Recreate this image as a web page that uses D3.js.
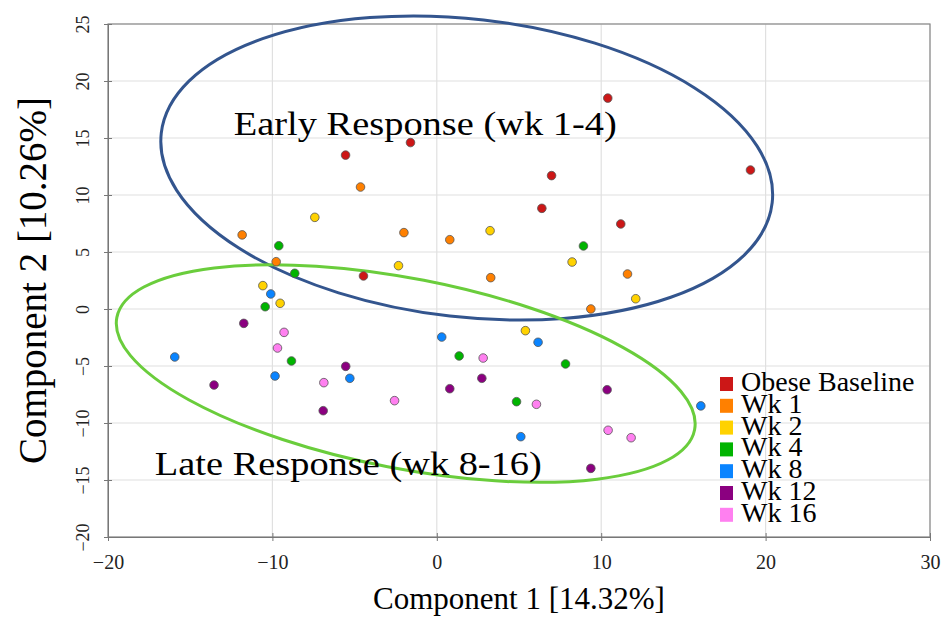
<!DOCTYPE html>
<html>
<head>
<meta charset="utf-8">
<script src="https://cdn.jsdelivr.net/npm/d3@7"></script>
<style>
  body { margin: 0; background: #fff; }
  text { font-family: "Liberation Serif", "Times New Roman", serif; }
</style>
</head>
<body>
<div id="my_dataviz"></div>
<script>

// groups and their colours
var groupNames = ["Obese Baseline", "Wk 1", "Wk 2", "Wk 4", "Wk 8", "Wk 12", "Wk 16"];
var groupColors = ["#cc1717", "#ff8000", "#ffd200", "#00b400", "#0a84ff", "#8b0080", "#ff80f0"];

// PCA scores [component 1, component 2]
var obeseBaseline = [[-5.55, 13.5], [-1.6, 14.6], [10.4, 18.5], [6.98, 11.7], [6.39, 8.83], [11.19, 7.46], [19.08, 12.19], [-4.46, 2.9]];
var wk1  = [[-4.64, 10.7], [-11.84, 6.5], [-9.77, 4.15], [-2.0, 6.7], [0.79, 6.08], [3.28, 2.75], [11.6, 3.07], [9.37, 0.0]];
var wk2  = [[-7.42, 8.04], [3.24, 6.87], [-2.33, 3.8], [8.23, 4.12], [-10.58, 2.05], [-9.53, 0.5], [12.1, 0.9], [5.39, -1.9]];
var wk4  = [[-9.61, 5.55], [-8.64, 3.13], [8.92, 5.53], [-10.44, 0.2], [-8.84, -4.56], [1.36, -4.12], [7.83, -4.82], [4.85, -8.13]];
var wk8  = [[-10.1, 1.32], [-15.94, -4.21], [-9.84, -5.88], [-5.29, -6.08], [0.3, -2.46], [6.16, -2.92], [5.11, -11.2], [16.06, -8.5]];
var wk12 = [[-11.74, -1.26], [-5.54, -5.03], [-13.55, -6.67], [-6.91, -8.92], [2.74, -6.08], [0.79, -6.99], [10.36, -7.08], [9.37, -13.98]];
var wk16 = [[-9.29, -2.05], [-9.69, -3.42], [-6.87, -6.46], [2.82, -4.3], [-2.57, -8.04], [6.06, -8.36], [10.42, -10.64], [11.82, -11.29]];
var groupData = [obeseBaseline, wk1, wk2, wk4, wk8, wk12, wk16];

// axis ticks
var xTicks = [-20, -10, 0, 10, 20, 30];
var yTicks = [-20, -15, -10, -5, 0, 5, 10, 15, 20, 25];

// set the dimensions and margins of the graph
var margin = {top: 24, right: 16, bottom: 82, left: 108},
    width = 946 - margin.left - margin.right,
    height = 619 - margin.top - margin.bottom;

var svg = d3.select("#my_dataviz")
  .append("svg")
    .attr("width", 946)
    .attr("height", 619)
  .append("g")
    .attr("transform", "translate(" + margin.left + "," + margin.top + ")");

var x = d3.scaleLinear().domain([-20, 30]).range([0, width]);
var y = d3.scaleLinear().domain([-20, 25]).range([height, 0]);

// gridlines
svg.append("g").selectAll("line.vg")
  .data(xTicks).enter().append("line")
    .attr("x1", function(d) { return x(d); }).attr("x2", function(d) { return x(d); })
    .attr("y1", 0).attr("y2", height)
    .attr("stroke", "#e0e0e0").attr("stroke-width", 1.2);
svg.append("g").selectAll("line.hg")
  .data(yTicks).enter().append("line")
    .attr("x1", 0).attr("x2", width)
    .attr("y1", function(d) { return y(d); }).attr("y2", function(d) { return y(d); })
    .attr("stroke", "#e0e0e0").attr("stroke-width", 1.2);

// frame
svg.append("rect")
  .attr("width", width).attr("height", height)
  .attr("fill", "none").attr("stroke", "#8a8a8a").attr("stroke-width", 1.2);

// x axis
var xAxis = svg.append("g")
  .attr("transform", "translate(0," + height + ")")
  .call(d3.axisBottom(x).tickValues(xTicks).tickSize(4).tickFormat(d3.format("d")));
xAxis.select(".domain").attr("stroke", "#777");
xAxis.selectAll(".tick line").attr("stroke", "#777").attr("y1", -4);
xAxis.selectAll("text")
  .attr("y", 18)
  .style("font-family", "Liberation Serif, serif")
  .style("font-size", "20px")
  .attr("fill", "#222");

// y axis, labels rotated
var yAxis = svg.append("g")
  .call(d3.axisLeft(y).tickValues(yTicks).tickSize(4).tickFormat(d3.format("d")));
yAxis.select(".domain").attr("stroke", "#777");
yAxis.selectAll(".tick line").attr("stroke", "#777").attr("x1", 4);
yAxis.selectAll("text")
  .attr("x", null).attr("dy", null)
  .attr("text-anchor", "middle")
  .attr("transform", "translate(-19,0) rotate(-90)")
  .style("font-family", "Liberation Serif, serif")
  .style("font-size", "18px")
  .attr("fill", "#222");

// response ellipses (data units, tilted on screen)
var ellipses = [
  {cx: 1.82, cy: 12.37, rx: 18.7, ry: 13.07, angle: 6.5, color: "#33558e"},
  {cx: -1.89, cy: -5.66, rx: 17.9, ry: 8.33, angle: 11, color: "#6acd3c"}
];
svg.append("g").selectAll("ellipse")
  .data(ellipses).enter().append("ellipse")
    .attr("cx", 0).attr("cy", 0)
    .attr("rx", function(d) { return x(d.rx) - x(0); })
    .attr("ry", function(d) { return y(0) - y(d.ry); })
    .attr("transform", function(d) { return "translate(" + x(d.cx) + "," + y(d.cy) + ") rotate(" + d.angle + ")"; })
    .attr("fill", "none")
    .attr("stroke", function(d) { return d.color; })
    .attr("stroke-width", 3);

// annotations
svg.append("text")
  .attr("x", x(-12.35)).attr("y", y(15.26))
  .style("font-size", "34px")
  .attr("textLength", 383).attr("lengthAdjust", "spacingAndGlyphs")
  .text("Early Response (wk 1-4)");
svg.append("text")
  .attr("x", x(-17.15)).attr("y", y(-14.56))
  .style("font-size", "34px")
  .attr("textLength", 387).attr("lengthAdjust", "spacingAndGlyphs")
  .text("Late Response (wk 8-16)");

// points
groupData.forEach(function(pts, i) {
  svg.append("g").selectAll("circle")
    .data(pts).enter().append("circle")
      .attr("cx", function(d) { return x(d[0]); })
      .attr("cy", function(d) { return y(d[1]); })
      .attr("r", 4.3)
      .attr("fill", groupColors[i])
      .attr("stroke", "#555")
      .attr("stroke-width", 0.8);
});

// legend
var legend = svg.append("g")
  .attr("transform", "translate(" + (720 - margin.left) + "," + (377 - margin.top) + ")");
var items = legend.selectAll("g")
  .data(groupNames).enter().append("g")
    .attr("transform", function(d, i) { return "translate(0," + (i * 21.8) + ")"; });
items.append("rect")
  .attr("width", 13).attr("height", 14)
  .attr("fill", function(d, i) { return groupColors[i]; });
items.append("text")
  .attr("x", 21).attr("y", 14)
  .style("font-size", "28px")
  .text(function(d) { return d; });

// axis titles
svg.append("text")
  .attr("x", width / 2).attr("y", height + 72)
  .attr("text-anchor", "middle")
  .style("font-size", "31px")
  .text("Component 1 [14.32%]");
svg.append("text")
  .attr("transform", "translate(" + (-62) + "," + (height / 2) + ") rotate(-90)")
  .attr("text-anchor", "middle")
  .style("font-size", "39px")
  .text("Component 2 [10.26%]");

</script>
</body>
</html>
